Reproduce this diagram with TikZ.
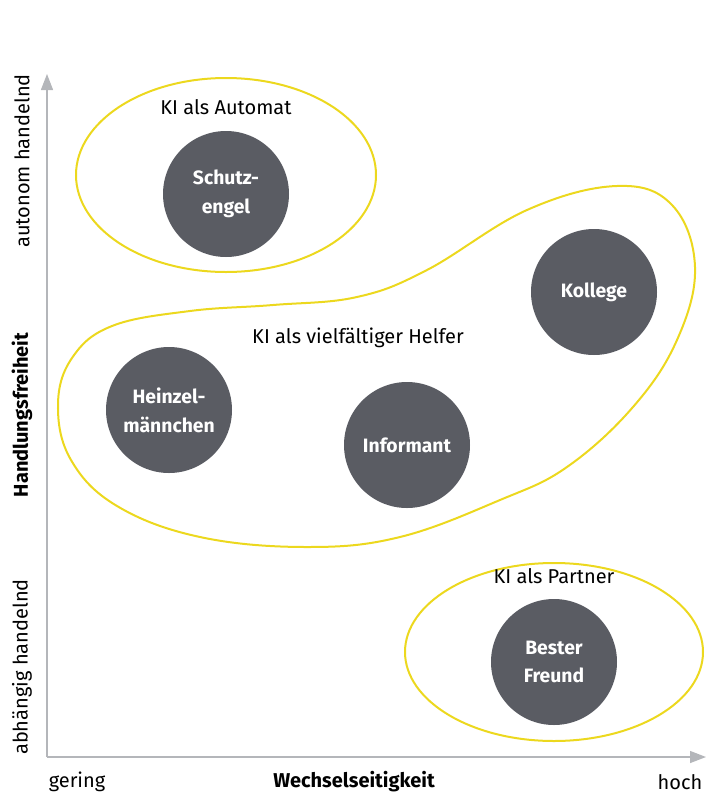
\documentclass[tikz,border=0pt]{standalone}
\usepackage{fontspec}
\setmainfont{Fira Sans}
\usetikzlibrary{arrows.meta,shapes.geometric}
\definecolor{kigray}{RGB}{90,92,99}
\definecolor{kiyellow}{RGB}{236,216,30}
\definecolor{axisgray}{RGB}{180,182,186}

\begin{document}
\begin{tikzpicture}[x=0.75pt,y=0.75pt,yscale=-1,xscale=1,
  persona/.style={circle,fill=kigray,minimum size=94.5pt,inner sep=0pt,text=white,align=center,font=\bfseries\fontsize{14.5}{21.5}\selectfont},
  field/.style={draw=kiyellow,line width=1.5pt},
  label/.style={inner sep=0pt,font=\fontsize{15}{18}\selectfont},
  axis/.style={draw=axisgray,line width=1pt,-{Triangle[length=12pt,width=9pt]}}]
\useasboundingbox (0,0) rectangle (716,793);
% Fields
\node [field,ellipse,minimum width=225pt,minimum height=145.5pt,inner sep=0pt] (automat) at (226,175) {};
\node [field,ellipse,minimum width=223.5pt,minimum height=133.5pt,inner sep=0pt] (partner) at (554,652) {};
\draw [field] plot [smooth cycle,tension=0.65] coordinates {(58,405) (72,358) (112,326) (190,311) (273,305) (357,297) (427,270) (527,210) (617,186) (672,205) (695,267) (677,340) (633,407) (567,467) (500,500) (400,537) (307,547) (200,537) (117,506) (71,460)};
% Axes
\coordinate (origin) at (47,757);
\coordinate (ytip) at (47,74);
\coordinate (xtip) at (706,757);
\draw [axis] (origin) -- (ytip);
\draw [axis] (origin) -- (xtip);
% Personas
\node [persona] (schutzengel) at (226,194) {Schutz-\\engel};
\node [persona] (kollege) at (594,292) {Kollege};
\node [persona] (heinzel) at (169,410) {Heinzel-\\männchen};
\node [persona] (informant) at (407,445) {Informant};
\node [persona] (freund) at (554,662) {Bester\\Freund};
% Text Node
\node [label] (automatlabel) at (226,107) {KI als Automat};
\node [label] (helferlabel) at (358,338) {KI als vielfältiger Helfer};
\node [label] (partnerlabel) at (554,576) {KI als Partner};
% Axis labels
\node [label] (gering) at (77,782) {gering};
\node [label,font=\bfseries\fontsize{15}{18}\selectfont] (wechsel) at (354,782) {Wechselseitigkeit};
\node [label] (hoch) at (680,782) {hoch};
\node [label,rotate=90] (autonom) at (22,161) {autonom handelnd};
\node [label,rotate=90,font=\bfseries\fontsize{15}{18}\selectfont] (freiheit) at (22,415) {Handlungsfreiheit};
\node [label,rotate=90] (abhaengig) at (22,667) {abhängig handelnd};
\end{tikzpicture}
\end{document}
